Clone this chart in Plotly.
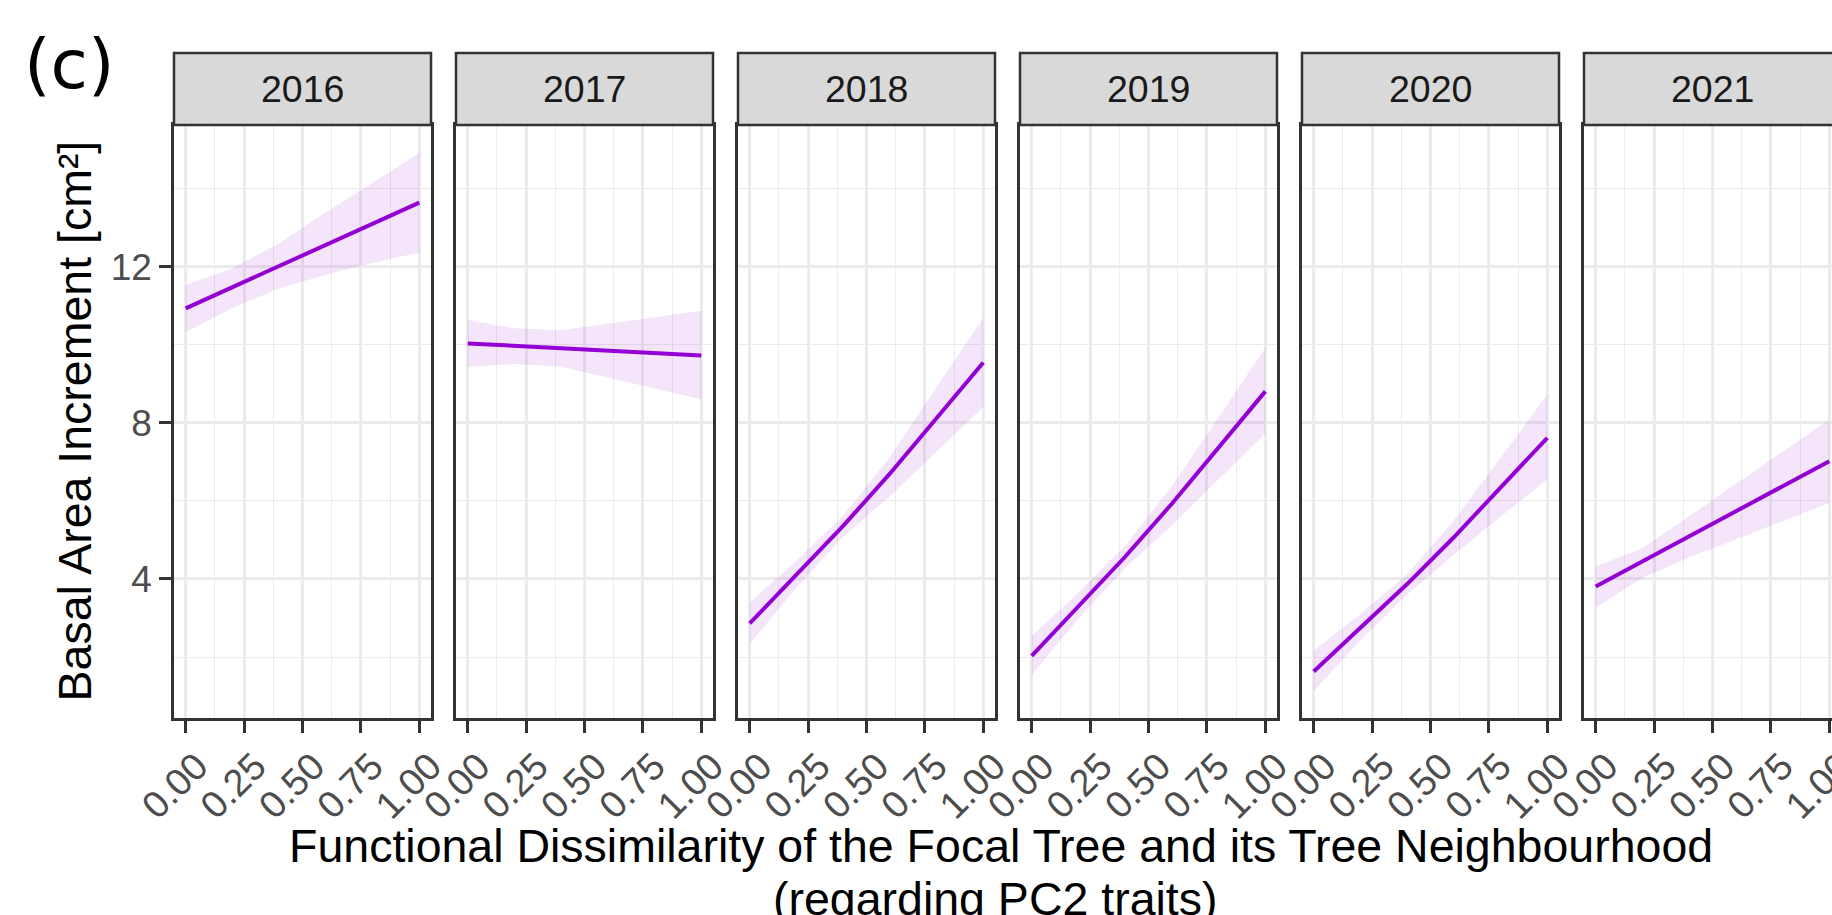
import plotly.graph_objects as go

# ---------------- data ----------------
years = ["2016", "2017", "2018", "2019", "2020", "2021"]
x_vals = [0.0, 0.2, 0.4, 0.6, 0.8, 1.0]
x_ticks = [0.0, 0.25, 0.5, 0.75, 1.0]
x_ticktext = ["0.00", "0.25", "0.50", "0.75", "1.00"]
y_ticks = [4, 8, 12]
y_ticktext = ["4", "8", "12"]

fit_2016 = [10.94, 11.48, 12.02, 12.57, 13.11, 13.65]
hi_2016 = [11.54, 11.97, 12.60, 13.40, 14.15, 14.93]
lo_2016 = [10.33, 10.95, 11.45, 11.80, 12.10, 12.37]

fit_2017 = [10.04, 9.98, 9.92, 9.85, 9.79, 9.73]
hi_2017 = [10.64, 10.43, 10.38, 10.55, 10.72, 10.88]
lo_2017 = [9.44, 9.51, 9.44, 9.16, 8.89, 8.61]

fit_2018 = [2.86, 4.11, 5.36, 6.70, 8.13, 9.55]
hi_2018 = [3.40, 4.47, 5.62, 7.13, 8.92, 10.69]
lo_2018 = [2.33, 3.78, 5.08, 6.12, 7.26, 8.41]

fit_2019 = [2.03, 3.30, 4.57, 5.93, 7.38, 8.81]
hi_2019 = [2.54, 3.65, 4.85, 6.38, 8.15, 9.93]
lo_2019 = [1.54, 2.98, 4.28, 5.38, 6.55, 7.73]

fit_2020 = [1.63, 2.75, 3.87, 5.07, 6.35, 7.62]
hi_2020 = [2.16, 3.10, 4.12, 5.50, 7.10, 8.73]
lo_2020 = [1.12, 2.43, 3.60, 4.62, 5.60, 6.55]

fit_2021 = [3.81, 4.45, 5.09, 5.74, 6.38, 7.02]
hi_2021 = [4.32, 4.79, 5.61, 6.44, 7.26, 8.09]
lo_2021 = [3.26, 4.03, 4.55, 5.02, 5.48, 5.95]

fits = [fit_2016, fit_2017, fit_2018, fit_2019, fit_2020, fit_2021]
his = [hi_2016, hi_2017, hi_2018, hi_2019, hi_2020, hi_2021]
los = [lo_2016, lo_2017, lo_2018, lo_2019, lo_2020, lo_2021]

# ---------------- styling / layout ----------------
W, H = 1832, 915
FONT = "Liberation Sans, Arial, sans-serif"
LINE_COL = "#9400D3"
RIBBON_COL = "rgba(148,0,211,0.10)"
BORDER = "#333333"
GRID = "#EBEBEB"

panel_left0 = 174
panel_w = 257
panel_step = 282
plot_top, plot_bot = 125, 718
strip_top = 53
x_range = [-0.05, 1.05]
y_range = [0.436, 15.64]

ydom = [(H - plot_bot) / H, (H - plot_top) / H]

fig = go.Figure()
layout = dict(
    width=W, height=H,
    margin=dict(l=0, r=0, t=0, b=0, pad=0, autoexpand=False),
    paper_bgcolor="white", plot_bgcolor="white",
    showlegend=False,
    font=dict(family=FONT),
)
shapes = []
annotations = []

for i, yr in enumerate(years):
    k = "" if i == 0 else str(i + 1)
    xref, yref = "x" + k, "y" + k
    left = panel_left0 + panel_step * i
    right = left + panel_w
    right_vis = min(right, W)
    xr = [x_range[0], x_range[0] + (x_range[1] - x_range[0]) * (right_vis - left) / panel_w]
    last = right > W

    # ribbon
    fig.add_trace(go.Scatter(
        x=x_vals + x_vals[::-1], y=his[i] + los[i][::-1],
        fill="toself", fillcolor=RIBBON_COL, line=dict(width=0),
        mode="lines", hoverinfo="skip", xaxis=xref, yaxis=yref))
    # fitted line
    fig.add_trace(go.Scatter(
        x=x_vals, y=fits[i], mode="lines",
        line=dict(color=LINE_COL, width=4), xaxis=xref, yaxis=yref))

    layout["xaxis" + k] = dict(
        domain=[left / W, right_vis / W], range=xr, anchor=yref,
        automargin=False,
        tickmode="array", tickvals=x_ticks, ticktext=x_ticktext,
        tickangle=-45, ticks="outside", ticklen=12, tickwidth=3, tickcolor=BORDER,
        tickfont=dict(size=38, color="#4D4D4D", family=FONT),
        ticklabelshift=11, ticklabelstandoff=-4, ticklabeloverflow="allow",
        showgrid=True, gridcolor=GRID, gridwidth=2.6,
        minor=dict(tickmode="array", tickvals=[0.125, 0.375, 0.625, 0.875],
                   showgrid=True, gridcolor=GRID, gridwidth=1.3, ticks=""),
        showline=True, linecolor=BORDER, linewidth=2.5, mirror=True,
        zeroline=False, fixedrange=True,
    )
    layout["yaxis" + k] = dict(
        domain=ydom, range=y_range, anchor=xref,
        automargin=False,
        tickmode="array", tickvals=y_ticks, ticktext=y_ticktext,
        showticklabels=(i == 0), ticks="outside" if i == 0 else "",
        ticklen=12, tickwidth=3, tickcolor=BORDER,
        tickfont=dict(size=37, color="#4D4D4D", family=FONT),
        showgrid=True, gridcolor=GRID, gridwidth=2.6,
        minor=dict(tickmode="array", tickvals=[2, 6, 10, 14],
                   showgrid=True, gridcolor=GRID, gridwidth=1.3, ticks=""),
        showline=True, linecolor=BORDER, linewidth=2.5, mirror=not last,
        zeroline=False, fixedrange=True,
    )

    # strip
    shapes.append(dict(type="rect", xref="paper", yref="paper",
                       x0=left / W, x1=right / W,
                       y0=(H - plot_top) / H, y1=(H - strip_top) / H,
                       fillcolor="#D9D9D9", line=dict(color=BORDER, width=2.5),
                       layer="above"))
    annotations.append(dict(text=yr, xref="paper", yref="paper",
                            x=(left + right) / 2 / W,
                            y=(H - (plot_top + strip_top) / 2) / H,
                            xanchor="center", yanchor="middle", showarrow=False,
                            font=dict(size=37.5, color="#1A1A1A", family=FONT)))

# axis titles and panel tag
annotations.append(dict(text="Basal Area Increment [cm²]", xref="paper", yref="paper",
                        x=74 / W, y=(H - 421.5) / H, textangle=-90,
                        xanchor="center", yanchor="middle", showarrow=False,
                        font=dict(size=46.5, color="black", family=FONT)))
annotations.append(dict(text="Functional Dissimilarity of the Focal Tree and its Tree Neighbourhood",
                        xref="paper", yref="paper", x=1001 / W, y=(H - 846) / H,
                        xanchor="center", yanchor="middle", showarrow=False,
                        font=dict(size=46.5, color="black", family=FONT)))
annotations.append(dict(text="(regarding PC2 traits)",
                        xref="paper", yref="paper", x=995 / W, y=(H - 899) / H,
                        xanchor="center", yanchor="middle", showarrow=False,
                        font=dict(size=46.5, color="black", family=FONT)))
annotations.append(dict(text="(c)", xref="paper", yref="paper",
                        x=68.5 / W, y=(H - 64) / H,
                        xanchor="center", yanchor="middle", showarrow=False,
                        font=dict(size=68, color="black", family="DejaVu Sans")))

layout["shapes"] = shapes
layout["annotations"] = annotations
fig.update_layout(**layout)
fig.write_html("out.html")
